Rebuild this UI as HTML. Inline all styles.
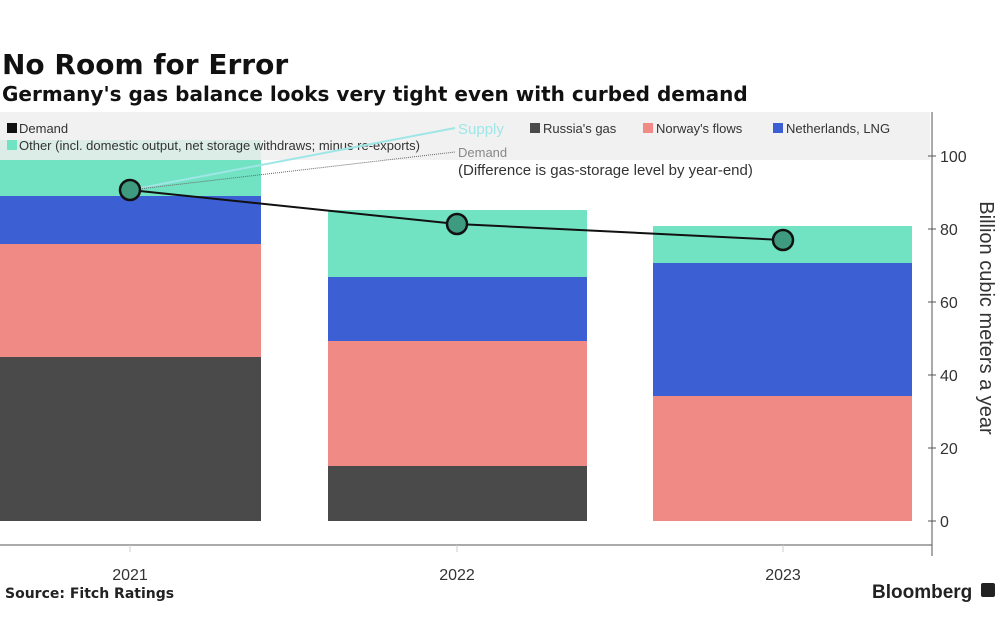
<!DOCTYPE html>
<html><head><meta charset="utf-8"><style>
body{margin:0;background:#fff;width:1000px;height:644px;overflow:hidden}
svg{display:block}
</style></head><body>
<svg width="1000" height="644" viewBox="0 0 1000 644" xmlns="http://www.w3.org/2000/svg" font-family="'DejaVu Sans', 'Liberation Sans', sans-serif">
<text x="2" y="74" font-size="28" font-weight="bold" fill="#111">No Room for Error</text>
<text x="2" y="101" font-size="20" font-weight="bold" fill="#111">Germany's gas balance looks very tight even with curbed demand</text>
<!-- bars -->
<g>
<rect x="0" y="357" width="261" height="164" fill="#4a4a4a"/>
<rect x="0" y="244" width="261" height="113" fill="#ef8a84"/>
<rect x="0" y="196" width="261" height="48" fill="#3d5fd4"/>
<rect x="0" y="140" width="261" height="56" fill="#72e3c2"/>
<rect x="328" y="466" width="259" height="55" fill="#4a4a4a"/>
<rect x="328" y="341" width="259" height="125" fill="#ef8a84"/>
<rect x="328" y="277" width="259" height="64" fill="#3d5fd4"/>
<rect x="328" y="210" width="259" height="67" fill="#72e3c2"/>
<rect x="653" y="396" width="259" height="125" fill="#ef8a84"/>
<rect x="653" y="263" width="259" height="133" fill="#3d5fd4"/>
<rect x="653" y="226" width="259" height="37" fill="#72e3c2"/>
</g>
<!-- legend bg -->
<rect x="0" y="112" width="930" height="48" fill="#eeeeee" opacity="0.85"/>
<g font-family="'Liberation Sans Narrow','Liberation Sans',sans-serif" font-size="13" fill="#333">
<rect x="7" y="123" width="10" height="10" fill="#111"/><text x="19" y="133">Demand</text>
<rect x="7" y="140" width="10" height="10" fill="#72e3c2"/><text x="19" y="150">Other (incl. domestic output, net storage withdraws; minus re-exports)</text>
<text x="458" y="134" fill="#9fe6e6" font-size="15">Supply</text>
<rect x="530" y="123" width="10" height="10" fill="#4a4a4a"/><text x="543" y="133">Russia's gas</text>
<rect x="643" y="123" width="10" height="10" fill="#ef8a84"/><text x="656" y="133">Norway's flows</text>
<rect x="773" y="123" width="10" height="10" fill="#3d5fd4"/><text x="786" y="133">Netherlands, LNG</text>
<text x="458" y="157" fill="#888" font-size="13">Demand</text>
<text x="458" y="175" font-size="15" fill="#333">(Difference is gas-storage level by year-end)</text>
</g>
<line x1="130" y1="190" x2="455" y2="128" stroke="#9fe6e6" stroke-width="2"/>
<line x1="130" y1="190" x2="455" y2="152" stroke="#666" stroke-width="1" stroke-dasharray="1,1"/>
<!-- demand line -->
<polyline points="130,190 457,224 783,240" fill="none" stroke="#111" stroke-width="2"/>
<g fill="#3f9b80" stroke="#111" stroke-width="2.5">
<circle cx="130" cy="190" r="10"/><circle cx="457" cy="224" r="10"/><circle cx="783" cy="240" r="10"/>
</g>
<!-- axes -->
<line x1="0" y1="545" x2="932" y2="545" stroke="#555" stroke-width="1"/>
<line x1="932" y1="112" x2="932" y2="556" stroke="#555" stroke-width="1"/>
<g stroke="#555"><line x1="928" y1="521" x2="936" y2="521"/><line x1="928" y1="448" x2="936" y2="448"/><line x1="928" y1="375" x2="936" y2="375"/><line x1="928" y1="302" x2="936" y2="302"/><line x1="928" y1="229" x2="936" y2="229"/><line x1="928" y1="156" x2="936" y2="156"/></g>
<g font-family="'Liberation Sans',sans-serif" font-size="16" fill="#333">
<text x="940" y="527">0</text><text x="940" y="454">20</text><text x="940" y="381">40</text><text x="940" y="308">60</text><text x="940" y="235">80</text><text x="940" y="162">100</text>
<text x="130" y="580" text-anchor="middle">2021</text><text x="457" y="580" text-anchor="middle">2022</text><text x="783" y="580" text-anchor="middle">2023</text>
<text transform="translate(980,318) rotate(90)" text-anchor="middle" font-size="20">Billion cubic meters a year</text>
</g>
<g stroke="#ccc"><line x1="130" y1="545" x2="130" y2="552"/><line x1="457" y1="545" x2="457" y2="552"/><line x1="783" y1="545" x2="783" y2="552"/></g>
<text x="5" y="598" font-size="14" font-weight="bold" fill="#222">Source: Fitch Ratings</text>
<text x="872" y="598" font-family="'Liberation Sans',sans-serif" font-size="19" font-weight="bold" fill="#222">Bloomberg</text>
<rect x="981" y="583" width="14" height="14" rx="2" fill="#222"/>
</svg>
</body></html>
